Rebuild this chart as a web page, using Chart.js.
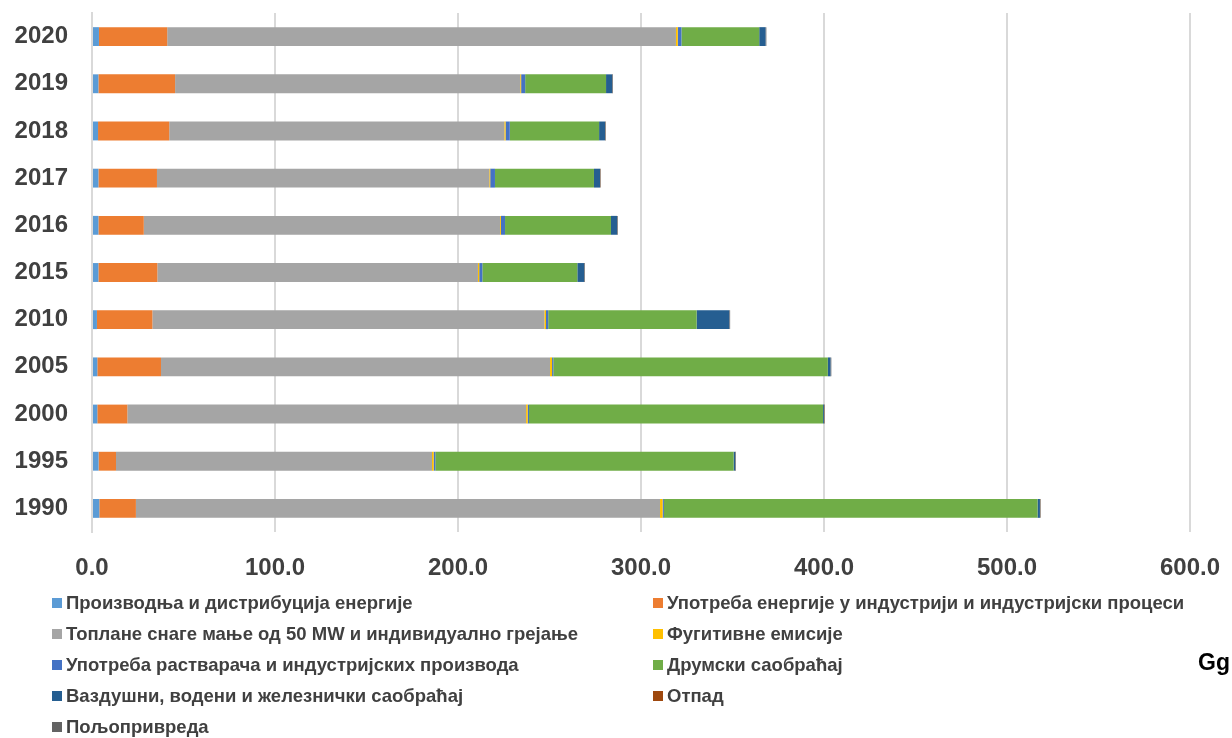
<!DOCTYPE html>
<html lang="sr">
<head>
    <meta charset="UTF-8">
    <title>Емисије по секторима</title>
    <script src="https://cdnjs.cloudflare.com/ajax/libs/Chart.js/4.4.1/chart.umd.min.js"></script>
    <style>
        body {
            margin: 0;
            padding: 0;
            background: #ffffff;
            font-family: "Liberation Sans", Arial, sans-serif;
        }
        .wrap {
            position: relative;
            width: 1232px;
            height: 738px;
            overflow: hidden;
        }
        .chart-box {
            position: absolute;
            left: 0;
            top: 0;
            width: 1232px;
            height: 590px;
        }
        /* legende u dve kolone */
        #legend {
            position: absolute;
            left: 52px;
            top: 587px;
            display: grid;
            grid-template-columns: 601px 570px;
            grid-auto-rows: 31px;
            font-size: 18.5px;
            font-weight: bold;
            color: #404040;
        }
        #legend .item {
            display: flex;
            align-items: center;
            white-space: nowrap;
        }
        #legend .box {
            width: 10px;
            height: 10px;
            margin-right: 4px;
            flex: none;
        }
        .unit {
            position: absolute;
            left: 1198px;
            top: 649px;
            font-size: 23px;
            font-weight: bold;
            color: #000;
        }
    </style>
</head>
<body>
<div class="wrap">
    <div class="chart-box"><canvas id="chart"></canvas></div>
    <div id="legend"></div>
    <div class="unit">Gg</div>
</div>

<script>
    // godine (odozgo nadole)
    const years = ['2020', '2019', '2018', '2017', '2016', '2015', '2010', '2005', '2000', '1995', '1990'];

    const energyProduction = [3.8, 3.5, 3.3, 3.5, 3.5, 3.5, 2.7, 2.9, 2.9, 3.6, 4.0];
    const industryEnergy   = [37.3, 41.9, 38.9, 32.0, 24.8, 32.2, 30.3, 34.8, 16.4, 9.5, 20.0];
    const smallHeating     = [278.0, 188.6, 183.1, 181.6, 194.7, 175.2, 214.2, 212.6, 217.9, 172.7, 286.4];
    const fugitive         = [1.0, 0.5, 0.7, 0.5, 0.5, 0.7, 0.9, 1.1, 0.9, 0.9, 1.4];
    const solvents         = [2.0, 2.2, 2.3, 2.6, 2.2, 1.7, 1.2, 0.7, 0.7, 0.9, 0.7];
    const roadTransport    = [42.5, 44.2, 48.8, 54.1, 57.9, 51.9, 81.1, 150.0, 160.7, 163.0, 204.2];
    const otherTransport   = [3.5, 3.4, 3.3, 3.3, 3.4, 3.8, 17.9, 1.5, 0.5, 0.9, 1.3];
    const waste            = [0.1, 0.1, 0.1, 0.1, 0.1, 0.1, 0.1, 0.1, 0.1, 0.1, 0.1];
    const agriculture      = [0.3, 0.3, 0.3, 0.3, 0.3, 0.3, 0.3, 0.3, 0.3, 0.3, 0.3];

    const xTicks = [0, 100, 200, 300, 400, 500, 600];

    const series = [
        ['Производња и дистрибуција енергије', energyProduction, '#5B9BD5'],
        ['Употреба енергије у индустрији и индустријски процеси', industryEnergy, '#ED7D31'],
        ['Топлане снаге мање од 50 MW и индивидуално грејање', smallHeating, '#A5A5A5'],
        ['Фугитивне емисије', fugitive, '#FFC000'],
        ['Употреба растварача и индустријских производа', solvents, '#4472C4'],
        ['Друмски саобраћај', roadTransport, '#70AD47'],
        ['Ваздушни, водени и железнички саобраћај', otherTransport, '#255E91'],
        ['Отпад', waste, '#9E480E'],
        ['Пољопривреда', agriculture, '#636363']
    ];

    const datasets = series.map(s => ({
        label: s[0],
        data: s[1],
        backgroundColor: s[2],
        borderWidth: 0,
        barPercentage: 0.8,
        categoryPercentage: 0.5
    }));

    const tickFont = { family: '"Liberation Sans", Arial, sans-serif', size: 24, weight: 'bold' };

    // bez dodatnog prostora za prelivanje labela
    function noOverhang(axis) {
        axis.paddingTop = 0;
        axis.paddingBottom = 0;
        axis.paddingLeft = 0;
        axis.paddingRight = 0;
    }

    const chart = new Chart(document.getElementById('chart'), {
        type: 'bar',
        data: { labels: years, datasets: datasets },
        options: {
            indexAxis: 'y',
            responsive: true,
            maintainAspectRatio: false,
            animation: false,
            layout: { padding: { left: 0, right: 42, top: 13, bottom: 0 } },
            plugins: {
                legend: { display: false },
                tooltip: { enabled: false }
            },
            scales: {
                x: {
                    stacked: true,
                    min: 0,
                    max: 600,
                    afterBuildTicks: axis => { axis.ticks = xTicks.map(v => ({ value: v })); },
                    afterFit: axis => { axis.height = 58; noOverhang(axis); },
                    grid: { color: '#d9d9d9', lineWidth: 2, drawTicks: false },
                    border: { display: false },
                    ticks: {
                        padding: 22,
                        color: '#404040',
                        font: tickFont,
                        callback: v => v.toFixed(1)
                    }
                },
                y: {
                    stacked: true,
                    afterFit: axis => { axis.width = 92; noOverhang(axis); },
                    grid: { display: false, drawTicks: false },
                    border: { display: true, color: '#d9d9d9', width: 2 },
                    ticks: {
                        padding: 24,
                        color: '#404040',
                        font: tickFont
                    }
                }
            }
        }
    });

    // HTML legenda
    const legend = document.getElementById('legend');
    chart.data.datasets.forEach(ds => {
        const item = document.createElement('div');
        item.className = 'item';
        item.innerHTML = '<span class="box" style="background:' + ds.backgroundColor + '"></span>' + ds.label;
        legend.appendChild(item);
    });
</script>
</body>
</html>
